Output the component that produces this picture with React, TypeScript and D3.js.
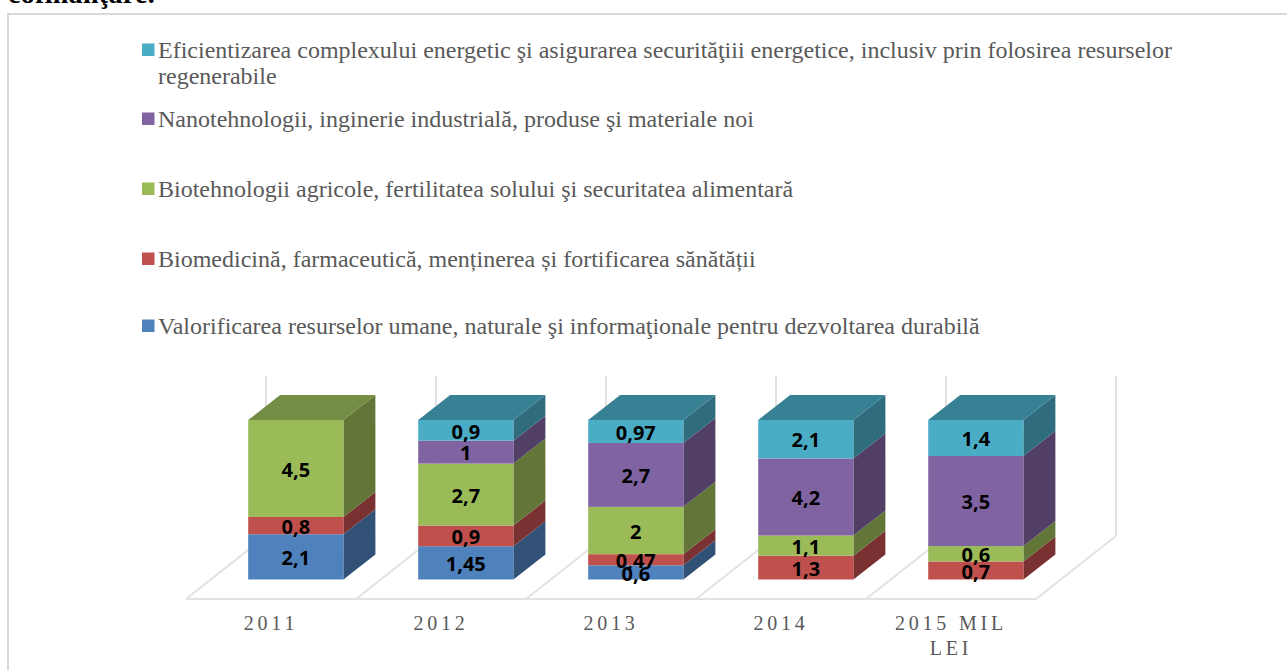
import React from 'react';
import * as d3 from 'd3';

const years = ['2011', '2012', '2013', '2014', '2015 MIL'];
const seriesNames = ['valorificare', 'biomedicina', 'biotehnologii', 'nanotehnologii', 'eficientizare'];
const valorificare = [2.1, 1.45, 0.6, 0, 0];
const biomedicina = [0.8, 0.9, 0.47, 1.3, 0.7];
const biotehnologii = [4.5, 2.7, 2, 1.1, 0.6];
const nanotehnologii = [0, 1, 2.7, 4.2, 3.5];
const eficientizare = [0, 0.9, 0.97, 2.1, 1.4];
const colors = ['#4f81bd', '#c0504d', '#9bbb59', '#8064a2', '#4bacc6'];

const legendLines = [
  ['Eficientizarea complexului energetic şi asigurarea securităţiii energetice, inclusiv prin folosirea resurselor', 'regenerabile'],
  ['Nanotehnologii, inginerie industrială, produse şi materiale noi'],
  ['Biotehnologii agricole, fertilitatea solului şi securitatea alimentară'],
  ['Biomedicină, farmaceutică, menținerea și fortificarea sănătății'],
  ['Valorificarea resurselor umane, naturale şi informaţionale pentru dezvoltarea durabilă'],
];
const legendY = [50, 119, 189, 259, 326];

const rows = years.map((y, i) => ({
  year: y,
  valorificare: valorificare[i],
  biomedicina: biomedicina[i],
  biotehnologii: biotehnologii[i],
  nanotehnologii: nanotehnologii[i],
  eficientizare: eficientizare[i],
}));

const stacked = d3.stack<any>().keys(seriesNames).offset(d3.stackOffsetExpand)(rows);

const x = d3.scaleBand().domain(years).range([186, 1036]).paddingInner(0.44).paddingOuter(0.22);
const y = d3.scaleLinear().domain([0, 1]).range([579.5, 420]);

// fake 3d offsets
const floorDx = 80;
const floorDy = 63;
const floorY = 599;
const wallTop = 376;
const barDx = 32;
const barDy = 25;
const insetX = 24.8;

const shade = (c: string, k: number) => {
  const r = d3.rgb(c);
  return d3.rgb(r.r * k, r.g * k, r.b * k).formatHex();
};
const serif = '"Liberation Serif", serif';
const grid = '#e2e2e2';

export default function App() {
  const step = x.step();
  const x0 = x.range()[0];
  const lines = d3.range(years.length + 1).map(i => x0 + i * step);

  return (
    <svg width={1287} height={670} style={{ position: 'fixed', left: 0, top: 0, background: '#fff' }}>
      <text x={8} y={3} fontFamily={serif} fontSize={28} letterSpacing={0.3} fontWeight="bold" fill="#000">cofinanţare.</text>
      <rect x={8} y={14} width={1300} height={680} fill="none" stroke="#d9d9d9" strokeWidth={2} />

      {legendLines.map((ls, i) => (
        <g key={i}>
          <rect x={142} y={legendY[i] - 6.5} width={12.5} height={12.5} fill={colors[4 - i]} />
          {ls.map((t, j) => (
            <text key={j} x={158} y={legendY[i] + 8 + j * 26} fontFamily={serif} fontSize={24} fill="#595959">{t}</text>
          ))}
        </g>
      ))}

      {/* floor and back wall */}
      <g stroke={grid} strokeWidth={2} fill="none">
        <line x1={x0} y1={floorY} x2={x0 + 850} y2={floorY} />
        {lines.map((lx, i) => (
          <g key={i}>
            <line x1={lx} y1={floorY} x2={lx + floorDx} y2={floorY - floorDy} />
            <line x1={lx + floorDx} y1={floorY - floorDy} x2={lx + floorDx} y2={wallTop} />
          </g>
        ))}
      </g>

      {/* bars */}
      {years.map(yr => {
        const left = (x(yr) as number) + insetX;
        const w = x.bandwidth();
        const segs = stacked.map((s, si) => ({ d: s[years.indexOf(yr)], color: colors[si] })).filter(s => s.d[1] > s.d[0]);
        const top = segs[segs.length - 1];
        return (
          <g key={yr}>
            {segs.map((s, i) => (
              <g key={i}>
                <polygon
                  points={`${left + w},${y(s.d[0])} ${left + w + barDx},${y(s.d[0]) - barDy} ${left + w + barDx},${y(s.d[1]) - barDy} ${left + w},${y(s.d[1])}`}
                  fill={shade(s.color, 0.63)}
                />
                <rect x={left} y={y(s.d[1])} width={w} height={y(s.d[0]) - y(s.d[1])} fill={s.color} />
              </g>
            ))}
            <polygon
              points={`${left},${y(1)} ${left + barDx},${y(1) - barDy} ${left + w + barDx},${y(1) - barDy} ${left + w},${y(1)}`}
              fill={shade(top.color, 0.75)}
            />
          </g>
        );
      })}

      {/* data labels */}
      {stacked.map((s, si) =>
        s.map((d, i) => {
          const v = d.data[seriesNames[si]];
          if (!v) return null;
          return (
            <text
              key={si + '-' + i}
              x={(x(years[i]) as number) + insetX + x.bandwidth() / 2}
              y={y((d[0] + d[1]) / 2) + 1}
              dy="0.36em"
              textAnchor="middle"
              fontFamily='"Open Sans", sans-serif'
              fontWeight="bold"
              fontSize={20}
              fill="#000"
            >
              {String(v).replace('.', ',')}
            </text>
          );
        })
      )}

      {/* category axis */}
      {years.map(yr => (
        <text
          key={yr}
          x={(x(yr) as number) + x.bandwidth() / 2}
          y={630}
          textAnchor="middle"
          fontFamily={serif}
          fontSize={20}
          letterSpacing={3.8}
          fill="#595959"
        >
          {yr}
        </text>
      ))}
      <text
        x={(x('2015 MIL') as number) + x.bandwidth() / 2}
        y={655}
        textAnchor="middle"
        fontFamily={serif}
        fontSize={20}
        letterSpacing={3.8}
        fill="#595959"
      >
        LEI
      </text>
    </svg>
  );
}
